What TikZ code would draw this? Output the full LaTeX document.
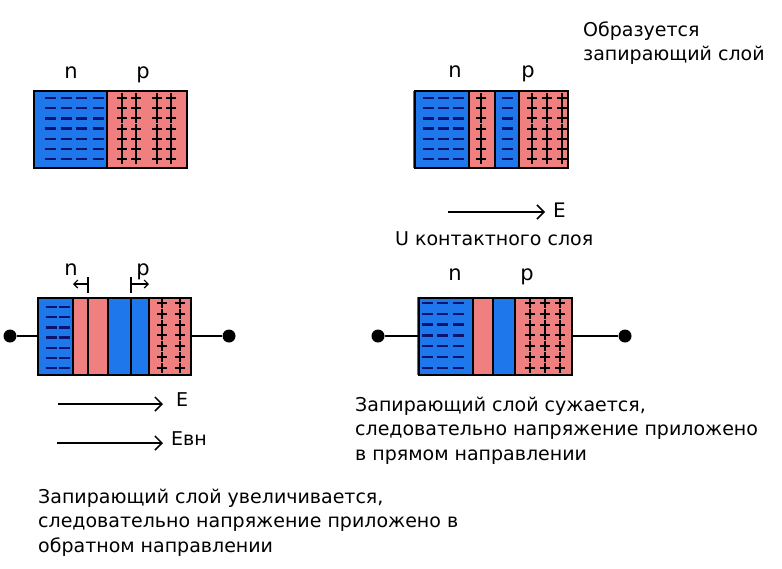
\documentclass[tikz,border=0pt]{standalone}
\usepackage{fontspec}
\setmainfont{DejaVu Sans}
\usetikzlibrary{arrows.meta}
\definecolor{nblue}{RGB}{30,120,235}
\definecolor{ppink}{RGB}{240,128,128}
\definecolor{mnavy}{RGB}{10,20,110}

\begin{document}
\begin{tikzpicture}[x=1pt,y=-1pt,
    nreg/.style={fill=nblue},
    preg/.style={fill=ppink},
    frame/.style={draw,line width=2pt,inner sep=0pt,minimum width=153pt,minimum height=77pt},
    divider/.style={line width=2pt},
    minussign/.style={draw=mnavy,line width=2.4pt},
    plussign/.style={draw=black,line width=2pt},
    wire/.style={line width=2pt},
    terminal/.style={circle,fill,inner sep=0pt,minimum size=13pt},
    field/.style={line width=1.5pt,-{Straight Barb[length=7pt,width=14pt,line width=1.5pt]}},
    drift/.style={line width=1.2pt,-{Straight Barb[length=4pt,width=8pt]}},
    lbl/.style={font=\fontsize{21}{24}\selectfont,anchor=base,inner sep=0pt},
    txt/.style={font=\fontsize{19}{24.5}\selectfont,anchor=base west,align=left,inner sep=0pt}]
  \useasboundingbox (0,0) rectangle (782,568);

  % --- first junction: n and p before contact
  \fill[nreg] (34,91) rectangle (107,168);
  \fill[preg] (107,91) rectangle (187,168);
  \draw[divider] (107,91) -- (107,168);
  \foreach \x in {50,66,81,98}
    \foreach \r in {0,...,6}
      \draw[minussign] ({\x-5.5},{98+10.2*\r}) -- ++(11,0);
  \foreach \x in {122,136,157,171}
    \foreach \r in {0,...,6}
      \draw[plussign] ({\x-5},{98+10.2*\r}) -- ++(10,0) ({\x},{93+10.2*\r}) -- ++(0,10);
  \node[frame] (boxA) at (110.5,129.5) {};
  \node[lbl] (nA) at (71,78) {n};
  \node[lbl] (pA) at (143,78) {p};

  % --- second junction: barrier layer formed
  \fill[nreg] (413,91) rectangle (469,168);
  \fill[preg] (469,91) rectangle (495,168);
  \fill[nreg] (495,91) rectangle (519,168);
  \fill[preg] (519,91) rectangle (569,168);
  \foreach \xd in {469,495,519}
    \draw[divider] (\xd,91) -- (\xd,168);
  \foreach \x in {428,443,458,507}
    \foreach \r in {0,...,6}
      \draw[minussign] ({\x-5.5},{98+10.2*\r}) -- ++(11,0);
  \foreach \x in {481,532,547,562}
    \foreach \r in {0,...,6}
      \draw[plussign] ({\x-5},{98+10.2*\r}) -- ++(10,0) ({\x},{93+10.2*\r}) -- ++(0,10);
  \node[frame] (boxB) at (491,129.5) {};
  \node[lbl] (nB) at (455,77) {n};
  \node[lbl] (pB) at (528,77) {p};
  \node[txt,font=\fontsize{19}{24}\selectfont] (formed) at (583,60) {Образуется\\запирающий слой};

  \coordinate (eB0) at (448,212);
  \coordinate (eB1) at (545,212);
  \draw[field] (eB0) -- (eB1);
  \node[txt,font=\fontsize{20}{24}\selectfont] (eB) at (553,217) {E};
  \node[txt] (ucont) at (395,245) {U контактного слоя};

  % --- third junction: reverse bias
  \fill[nreg] (38,297) rectangle (73,375);
  \fill[preg] (73,297) rectangle (108,375);
  \fill[nreg] (108,297) rectangle (149,375);
  \fill[preg] (149,297) rectangle (191,375);
  \foreach \xd in {73,88,108,131,149}
    \draw[divider] (\xd,297) -- (\xd,375);
  \foreach \x in {51,64}
    \foreach \r in {0,...,6}
      \draw[minussign] ({\x-5.5},{307+10.2*\r}) -- ++(11,0);
  \foreach \x in {162,180}
    \foreach \r in {0,...,6}
      \draw[plussign] ({\x-5},{303+10.8*\r}) -- ++(10,0) ({\x},{298+10.8*\r}) -- ++(0,10);
  \node[frame] (boxC) at (114.5,336) {};
  \node[terminal] (tCl) at (10,336) {};
  \node[terminal] (tCr) at (229,336) {};
  \draw[wire] (tCl) -- (boxC.west);
  \draw[wire] (boxC.east) -- (tCr);
  \node[lbl] (nC) at (71,275) {n};
  \node[lbl] (pC) at (143,275) {p};
  \draw[line width=1.2pt] (88,277) -- (88,293);
  \draw[drift] (88,284) -- (73,284);
  \draw[line width=1.2pt] (131,277) -- (131,293);
  \draw[drift] (131,284) -- (149,284);

  \coordinate (eC0) at (58,404);
  \coordinate (eC1) at (163,404);
  \draw[field] (eC0) -- (eC1);
  \node[txt] (eC) at (176,406) {E};
  \coordinate (vC0) at (57,443);
  \coordinate (vC1) at (163,443);
  \draw[field] (vC0) -- (vC1);
  \node[txt] (evn) at (171,445) {Евн};
  \node[txt] (reverse) at (38,552) {Запирающий слой увеличивается,\\следовательно напряжение приложено в\\обратном направлении};

  % --- fourth junction: forward bias
  \fill[nreg] (417,297) rectangle (473,375);
  \fill[preg] (473,297) rectangle (493,375);
  \fill[nreg] (493,297) rectangle (515,375);
  \fill[preg] (515,297) rectangle (573,375);
  \foreach \xd in {473,493,515}
    \draw[divider] (\xd,297) -- (\xd,375);
  \foreach \x in {427,442,458}
    \foreach \r in {0,...,6}
      \draw[minussign] ({\x-5.5},{303+10.8*\r}) -- ++(11,0);
  \foreach \x in {530,545,560}
    \foreach \r in {0,...,6}
      \draw[plussign] ({\x-5},{303+10.8*\r}) -- ++(10,0) ({\x},{298+10.8*\r}) -- ++(0,10);
  \node[frame] (boxD) at (495,336) {};
  \node[terminal] (tDl) at (378,336) {};
  \node[terminal] (tDr) at (625,336) {};
  \draw[wire] (tDl) -- (boxD.west);
  \draw[wire] (boxD.east) -- (tDr);
  \node[lbl] (nD) at (455,280) {n};
  \node[lbl] (pD) at (527,280) {p};
  \node[txt] (forward) at (355,460) {Запирающий слой сужается,\\следовательно напряжение приложено\\в прямом направлении};
\end{tikzpicture}
\end{document}
